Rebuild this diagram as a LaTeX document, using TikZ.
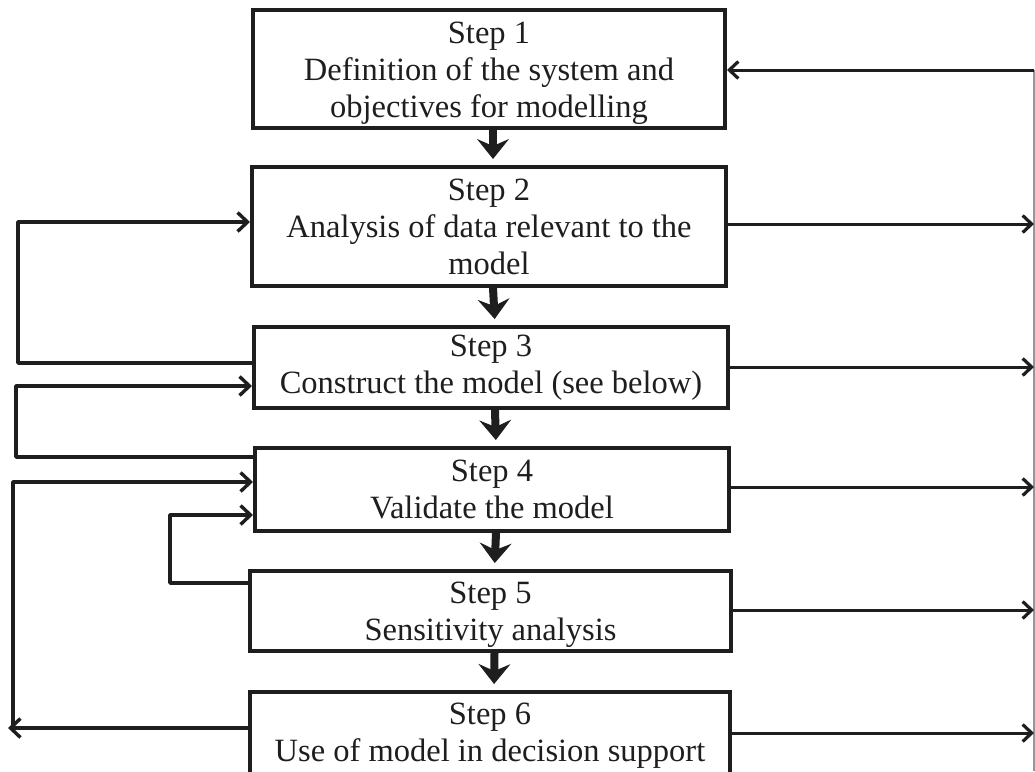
\documentclass[tikz,border=0pt]{standalone}
\usepackage{fontspec}
\setmainfont{Liberation Serif}
\usetikzlibrary{arrows.meta,calc}
\definecolor{ink}{RGB}{30,30,30}
\definecolor{faint}{RGB}{150,150,150}
\begin{document}
\begin{tikzpicture}[x=1pt,y=-1pt,
  stepbox/.style={draw=ink, line width=4pt, inner sep=0pt, align=center,
    text=ink, font=\fontsize{32.5}{37}\selectfont},
  downarrow/.style={draw=ink, line width=8pt, shorten >=6pt,
    -{Stealth[length=20pt,width=32pt,inset=7pt,line width=1pt]}},
  loopline/.style={draw=ink, line width=3.6pt, line join=round},
  looparrow/.style={loopline, -{Straight Barb[length=10pt,width=19pt,line width=3.4pt]}},
  outarrow/.style={draw=ink, line width=3pt, -{Straight Barb[length=9pt,width=17pt,line width=3.2pt]}},
  bus/.style={draw=faint, line width=1.2pt}]

\useasboundingbox (0,0) rectangle (1035,771);

% the six steps
\node[stepbox, minimum width=472pt, minimum height=118pt] (b1) at (489,69)
  {\rule{0pt}{30pt}Step 1\\Definition of the system and\\objectives for modelling};
\node[stepbox, minimum width=474pt, minimum height=119pt] (b2) at (489,226.5)
  {Step 2\\Analysis of data relevant to the\\model};
\node[stepbox, minimum width=474pt, minimum height=81pt] (b3) at (491,367.5)
  {Step 3\\Construct the model (see below)};
\node[stepbox, minimum width=474pt, minimum height=83pt] (b4) at (492,489.5)
  {Step 4\\Validate the model};
\node[stepbox, minimum width=481pt, minimum height=80pt] (b5) at (490.5,611)
  {\rule{0pt}{28pt}Step 5\\Sensitivity analysis};
\node[stepbox, minimum width=480pt, minimum height=88pt] (b6) at (490,736)
  {Step 6\\Use of model in decision support};

% main sequence
\draw[downarrow] ([xshift=4pt]b1.south) -- ([xshift=4pt]b2.north);
\draw[downarrow] ([xshift=4pt]b2.south) -- ([xshift=4pt]b3.north);
\draw[downarrow] ([xshift=4pt]b3.south) -- ([xshift=4pt]b4.north);
\draw[downarrow] ([xshift=4pt]b4.south) -- ([xshift=4pt]b5.north);
\draw[downarrow] ([xshift=4pt]b5.south) -- ([xshift=4pt]b6.north);

% feedback loops on the left
\coordinate (la) at (18,363);
\coordinate (lb) at (16,457);
\coordinate (lc) at (13,728);
\coordinate (lcTip) at (8,728);
\coordinate (ld) at (170,583);

\draw[looparrow] (b3.west |- la) -- (la) |- (b2.west |- 0,222);
\draw[looparrow] (b4.west |- lb) -- (lb) |- (b3.west |- 0,386);
\draw[looparrow] (b5.west |- ld) -- (ld) |- (b4.west |- 0,515);
\draw[looparrow] (b6.west |- lc) -- (lcTip);
\draw[looparrow] (lc) |- (b4.west |- 0,482);

% return path on the right
\coordinate (rtop) at (1034,70);
\coordinate (rbot) at (1034,771);
\draw[bus] (rtop) -- (rbot);
\draw[outarrow] (rtop) -- (b1.east |- rtop);
\draw[outarrow] (b2.east |- 0,224) -- (rtop |- 0,224);
\draw[outarrow] (b3.east |- 0,367) -- (rtop |- 0,367);
\draw[outarrow] (b4.east |- 0,487) -- (rtop |- 0,487);
\draw[outarrow] (b5.east |- 0,610) -- (rtop |- 0,610);
\draw[outarrow] (b6.east |- 0,733) -- (rtop |- 0,733);
\end{tikzpicture}
\end{document}
